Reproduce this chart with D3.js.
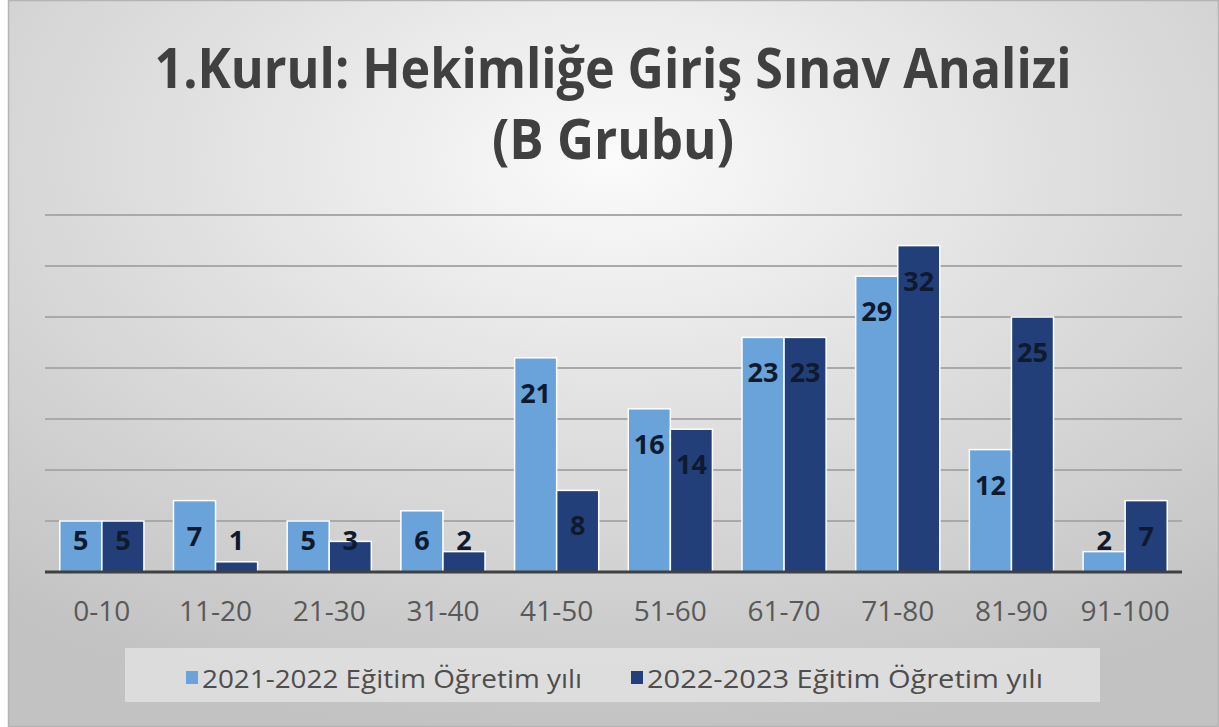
<!DOCTYPE html>
<html>
<head>
<meta charset="utf-8">
<script src="https://cdn.jsdelivr.net/npm/d3@7"></script>
<style>
  body { margin: 0; background: #fff; }
  svg { display: block; }
</style>
</head>
<body>
<script>
// chart data
var categories = ["0-10", "11-20", "21-30", "31-40", "41-50", "51-60", "61-70", "71-80", "81-90", "91-100"];
var seriesNames = ["2021-2022 Eğitim Öğretim yılı", "2022-2023 Eğitim Öğretim yılı"];
var values2122 = [5, 7, 5, 6, 21, 16, 23, 29, 12, 2];
var values2223 = [5, 1, 3, 2, 8, 14, 23, 32, 25, 7];
var gridTicks = [0, 5, 10, 15, 20, 25, 30, 35];
var titleLines = ["1.Kurul: Hekimliğe Giriş Sınav Analizi", "(B Grubu)"];

var colors = ["#69a3da", "#223f7a"];

var width = 1219, height = 727;

var svg = d3.select("body").append("svg")
    .attr("width", width)
    .attr("height", height);

// background gradient
var defs = svg.append("defs");
var grad = defs.append("radialGradient")
    .attr("id", "bg")
    .attr("cx", 0.5).attr("cy", 0.22).attr("r", 0.8);
grad.append("stop").attr("offset", "0%").attr("stop-color", "#fbfbfb");
grad.append("stop").attr("offset", "45%").attr("stop-color", "#e0e0e0");
grad.append("stop").attr("offset", "100%").attr("stop-color", "#c2c2c2");

svg.append("rect")
    .attr("x", 8.5).attr("y", 0.5)
    .attr("width", width - 9).attr("height", height - 1)
    .attr("fill", "url(#bg)")
    .attr("stroke", "#b4b4b4")
    .attr("stroke-width", 1.5);

// title
var title = svg.append("g");
var titleWidths = [917, 242];
var titleY = [88, 159];
titleLines.forEach(function(t, i){
    title.append("text")
        .attr("x", 613)
        .attr("y", titleY[i])
        .attr("text-anchor", "middle")
        .attr("font-family", "'Open Sans', 'Noto Sans', sans-serif")
        .attr("font-weight", "bold")
        .attr("font-size", 56)
        .attr("fill", "#404040")
        .attr("textLength", titleWidths[i])
        .attr("lengthAdjust", "spacingAndGlyphs")
        .text(t);
});

// scales
var x = d3.scaleBand()
    .domain(categories)
    .range([45, 1182])
    .paddingInner(0.26)
    .paddingOuter(0.13);

var x1 = d3.scaleBand()
    .domain([0, 1])
    .range([0, x.bandwidth()]);

var y = d3.scaleLinear()
    .domain([0, 35])
    .range([572, 215]);

// gridlines
svg.append("g").selectAll("line")
    .data(gridTicks.filter(function(d){ return d > 0; }))
    .enter().append("line")
    .attr("x1", 45).attr("x2", 1182)
    .attr("y1", function(d){ return y(d); })
    .attr("y2", function(d){ return y(d); })
    .attr("stroke", "#a9a9a9")
    .attr("stroke-width", 2);

// bars
var rows = categories.map(function(c, i){
    return {cat: c, vals: [values2122[i], values2223[i]]};
});

var groups = svg.append("g").selectAll("g")
    .data(rows)
    .enter().append("g")
    .attr("transform", function(d){ return "translate(" + x(d.cat) + ",0)"; });

groups.selectAll("rect")
    .data(function(d){ return d.vals.map(function(v, s){ return {v: v, s: s}; }); })
    .enter().append("rect")
    .attr("x", function(d){ return x1(d.s); })
    .attr("y", function(d){ return y(d.v); })
    .attr("width", x1.bandwidth())
    .attr("height", function(d){ return y(0) - y(d.v); })
    .attr("fill", function(d){ return colors[d.s]; })
    .attr("stroke", "#ffffff")
    .attr("stroke-width", 1.5);

// x axis baseline
svg.append("line")
    .attr("x1", 45).attr("x2", 1182)
    .attr("y1", y(0)).attr("y2", y(0))
    .attr("stroke", "#404040")
    .attr("stroke-width", 3);

// value labels (inside end)
groups.selectAll("text")
    .data(function(d){ return d.vals.map(function(v, s){ return {v: v, s: s}; }); })
    .enter().append("text")
    .attr("x", function(d){ return x1(d.s) + x1.bandwidth() / 2; })
    .attr("y", function(d){ return Math.min(y(d.v) + 35, 540) + 10; })
    .attr("text-anchor", "middle")
    .attr("font-family", "'Open Sans', sans-serif")
    .attr("font-weight", "bold")
    .attr("font-size", 27)
    .attr("fill", "#0f1a2e")
    .text(function(d){ return d.v; });

// category labels
var xAxis = d3.axisBottom(x).tickSize(0).tickPadding(0);
var xg = svg.append("g")
    .attr("transform", "translate(0,600)")
    .call(xAxis);
xg.select(".domain").remove();
xg.selectAll("text")
    .attr("font-family", "'Open Sans', sans-serif")
    .attr("font-size", 28)
    .attr("fill", "#595959")
    .attr("dy", 0)
    .attr("y", 21);

// legend
var legend = svg.append("g");
legend.append("rect")
    .attr("x", 125).attr("y", 648)
    .attr("width", 975).attr("height", 54)
    .attr("fill", "#e2e2e2")
    .attr("fill-opacity", 0.8);

var legendX = [186, 631];
var legendW = [380, 396];
seriesNames.forEach(function(name, i){
    legend.append("rect")
        .attr("x", legendX[i]).attr("y", 671)
        .attr("width", 12).attr("height", 13)
        .attr("fill", colors[i]);
    legend.append("text")
        .attr("x", legendX[i] + 16)
        .attr("y", 688)
        .attr("font-family", "'Open Sans', sans-serif")
        .attr("font-size", 25)
        .attr("fill", "#4d4d4d")
        .attr("textLength", legendW[i])
        .attr("lengthAdjust", "spacingAndGlyphs")
        .text(name);
});
</script>
</body>
</html>
